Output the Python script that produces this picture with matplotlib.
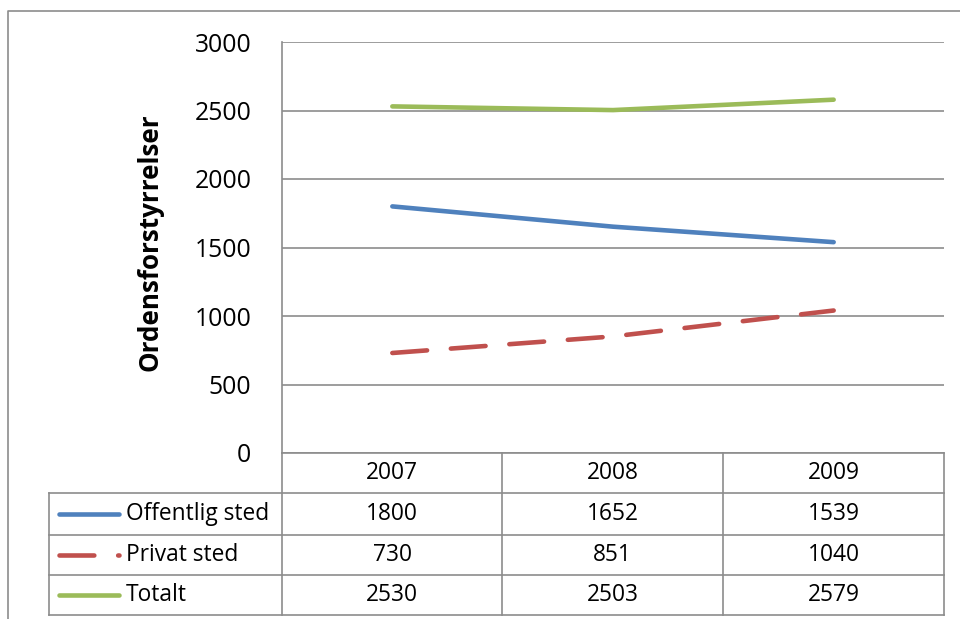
import matplotlib
matplotlib.use("Agg")
import matplotlib.pyplot as plt
from matplotlib.lines import Line2D

years = ["2007", "2008", "2009"]
series_names = ["Offentlig sted", "Privat sted", "Totalt"]
offentlig = [1800, 1652, 1539]
privat = [730, 851, 1040]
totalt = [2530, 2503, 2579]
yticks = [0, 500, 1000, 1500, 2000, 2500, 3000]

colors = ["#4F81BD", "#C0504D", "#9BBB59"]
styles = ["-", (0, (7.6, 5.2)), "-"]
values = [offentlig, privat, totalt]

FONT = "Open Sans"
LW = 3.3
W, H = 960, 619
fig = plt.figure(figsize=(W / 100, H / 100), dpi=100)

def fx(px):
    return px / W

def fy(py):
    return 1 - py / H

L, R, T, B = 282, 944, 42, 453
ax = fig.add_axes([fx(L), fy(B), fx(R) - fx(L), fy(T) - fy(B)])
grid_c = "#8C8C8C"
for v in yticks:
    ax.axhline(v, color=grid_c, lw=1.2, zorder=1)
xs = list(range(len(years)))
for vals, c, st in zip(values, colors, styles):
    ax.plot(xs, vals, color=c, lw=LW, linestyle=st, solid_capstyle="round",
            dash_capstyle="round", zorder=3)
ax.set_xlim(-0.5, len(years) - 0.5)
ax.set_ylim(0, 3000)
for s in ["top", "right", "bottom"]:
    ax.spines[s].set_visible(False)
ax.spines["left"].set_color(grid_c)
ax.spines["left"].set_linewidth(1.2)
ax.set_xticks([])
ax.set_yticks(yticks)
ax.set_yticklabels([str(v) for v in yticks], fontsize=17.8, family=FONT)
ax.tick_params(axis="y", length=0, pad=22)

# overlay axes in pixel coordinates for the data table and border
ov = fig.add_axes([0, 0, 1, 1], zorder=5)
ov.set_xlim(0, W)
ov.set_ylim(H, 0)
ov.axis("off")
ov.patch.set_alpha(0)

ov.text(150, 242, "Ordensforstyrrelser", rotation=90, ha="center", va="center",
        fontsize=18.7, fontweight="bold", family=FONT)

# outer chart border
ov.plot([8, 8, W], [H, 11, 11], color="#8C8C8C", lw=1.2)

col_edges = [L, 502, 723, R]
row_edges = [453, 493, 535, 575, 615]
tbl_left = 49
tc = "#8C8C8C"
ov.plot([L, R], [row_edges[0], row_edges[0]], color=tc, lw=1.2)
for y in row_edges[1:]:
    ov.plot([tbl_left, R], [y, y], color=tc, lw=1.2)
for x in col_edges:
    ov.plot([x, x], [row_edges[0], row_edges[-1]], color=tc, lw=1.2)
ov.plot([tbl_left, tbl_left], [row_edges[1], row_edges[-1]], color=tc, lw=1.2)

TFS = 16.4
for i, yr in enumerate(years):
    cx = (col_edges[i] + col_edges[i + 1]) / 2
    ov.text(cx, (row_edges[0] + row_edges[1]) / 2, yr, ha="center", va="center",
            fontsize=TFS, family=FONT)
for r, (name, vals, c, st) in enumerate(zip(series_names, values, colors, styles)):
    cy = (row_edges[r + 1] + row_edges[r + 2]) / 2
    ov.add_line(Line2D([59, 119], [cy, cy], color=c, lw=LW, linestyle=st,
                       solid_capstyle="round", dash_capstyle="round"))
    ov.text(126, cy, name, ha="left", va="center", fontsize=TFS, family=FONT)
    for i, v in enumerate(vals):
        cx = (col_edges[i] + col_edges[i + 1]) / 2
        ov.text(cx, cy, str(v), ha="center", va="center", fontsize=TFS, family=FONT)

fig.savefig("out.png", dpi=100)
